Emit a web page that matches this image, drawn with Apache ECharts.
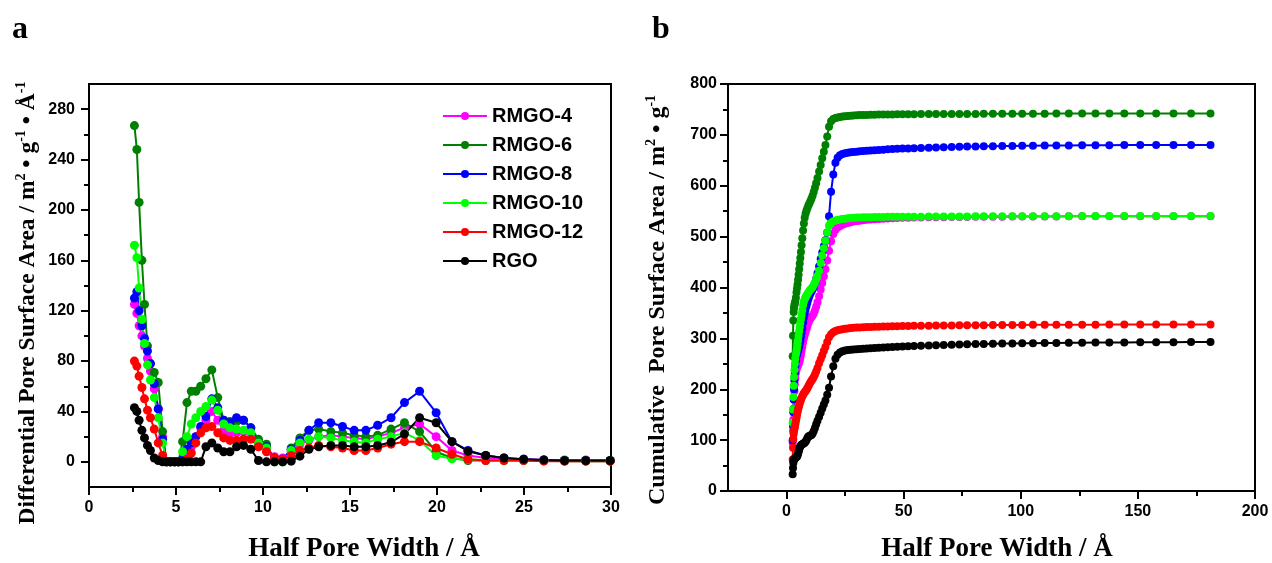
<!DOCTYPE html>
<html>
<head>
<meta charset="utf-8">
<script src="https://cdn.jsdelivr.net/npm/echarts@6/dist/echarts.min.js"></script>
<style>html,body{margin:0;padding:0;background:#fff;}#c{width:1272px;height:563px;}</style>
</head>
<body>
<div id="c"></div>
<script>
// Half pore width (Å) – shared x grid (first 53 used by panel a)
const halfPoreWidth = [2.61, 2.75, 2.88, 3.04, 3.19, 3.36, 3.53, 3.75, 3.98, 4.23,
  4.45, 4.68, 4.92, 5.14, 5.38, 5.63, 5.88, 6.14, 6.42, 6.72,
  7.06, 7.4, 7.74, 8.1, 8.48, 8.88, 9.3, 9.74, 10.2, 10.66,
  11.13, 11.62, 12.12, 12.64, 13.2, 13.9, 14.57, 15.24, 15.91, 16.59,
  17.36, 18.13, 19.0, 19.95, 20.86, 21.78, 22.8, 23.85, 24.98, 26.14,
  27.33, 28.55, 29.95,
  31.3, 32.8, 34.3, 35.9, 37.6, 39.4, 41.3, 43.2, 45.2, 47.3,
  49.5, 51.9, 54.4, 57.4, 60.7, 63.8, 67.1, 70.5, 73.8, 77.1,
  80.7, 84.2, 88.1, 92.1, 96.4, 100.6, 105.2, 110.2, 115.2, 120.5,
  126.2, 131.9, 137.8, 144.2, 151.0, 157.8, 165.2, 172.7, 181.0];

const seriesNames = ['RMGO-4', 'RMGO-6', 'RMGO-8', 'RMGO-10', 'RMGO-12', 'RGO'];

// Panel a: differential pore surface area
const diffRMGO4 = [125, 118, 108, 100, 92, 82, 72, 58, 42, 20,
  0, 0, 0, 0, 1, 5, 12, 20, 27, 33,
  40, 33, 25, 22, 23, 24, 20, 13, 9, 4,
  3, 8, 14, 17, 20, 21, 20, 19, 18, 20,
  23, 27, 30, 20, 9, 5, 3, 2, 2, 1.5,
  1.5, 1.5, 1];
const diffRMGO6 = [267, 248, 206, 160, 125, 92, 78, 71, 63, 24,
  0, 0, 0, 0, 16, 47, 56, 56, 60, 66,
  73, 51, 33, 32, 32, 33, 27, 18, 14, 0,
  0, 11, 19, 25, 26, 24, 23, 21, 20, 21,
  26, 31, 24, 8, 3, 1, 1, 1, 1, 1,
  0.5, 0.5, 0.5];
const diffRMGO8 = [130, 135, 120, 108, 98, 88, 78, 62, 42, 18,
  0, 0, 0, 0, 2, 10, 15, 20, 28, 36,
  50, 43, 33, 31, 35, 33, 27, 15, 12, 3,
  2, 10, 17, 25, 31, 31, 28, 25, 25, 29,
  35, 47, 56, 39, 16, 9, 5, 3, 2, 1.5,
  1, 1, 1];
const diffRMGO10 = [172, 162, 138, 113, 94, 77, 65, 51, 35, 15,
  0, 0, 0, 0, 8, 20, 30, 35, 40, 44,
  49, 41, 30, 27, 26, 25, 23, 15, 11, 0,
  0, 9, 15, 18, 20, 19, 17, 16, 15, 18,
  20, 23, 17, 5, 2.4, 1.8, 1.5, 1.2, 1, 1,
  1, 1, 1];
const diffRMGO12 = [80, 76, 68, 59, 50, 41, 35, 26, 15, 5,
  0, 0, 0, 0, 0, 2, 7, 15, 23, 27,
  28, 23, 19, 17, 17, 18, 18, 12, 8, 3,
  2, 5, 9, 11, 13, 12, 11, 9, 9, 11,
  14, 16, 16, 11, 6, 2, 1, 1, 1, 0.5,
  0.5, 0.5, 0.5];
const diffRGO = [43, 40, 33, 25, 19, 13, 9, 3, 1, 0,
  0, 0, 0, 0, 0, 0, 0, 0, 0, 12,
  15, 11, 8, 8, 12, 13, 10, 1, 0, 0,
  0, 0.5, 4.5, 10, 12, 13, 13, 12, 12, 13,
  15.6, 22, 35, 31, 16, 8.4, 5, 3, 2, 1.5,
  1, 1, 1];

// Panel b: cumulative pore surface area
const cumRMGO4 = [95, 118, 140, 162, 180, 196, 210, 222, 232, 238,
  242, 245, 247, 250, 253, 257, 262, 268, 275, 283,
  292, 300, 306, 312, 318, 324, 330, 335, 339, 342,
  345, 349, 355, 362, 371, 383, 396, 409, 422, 436,
  453, 472, 491, 505, 513, 518, 521, 523.5, 525.5, 527,
  528.5, 529.5, 530.5,
  531, 532, 533, 533.5, 534, 534.5, 535, 535.5, 536, 536.5,
  537, 537, 537.5, 537.5, 538, 538, 538, 538.5, 538.5, 538.5,
  539, 539, 539, 539, 539.5, 539.5, 539.5, 539.5, 539.5, 540,
  540, 540, 540, 540, 540, 540, 540, 540, 540];
const cumRMGO6 = [265, 305, 335, 352, 360, 365, 369, 373, 380, 390,
  398, 406, 415, 425, 436, 447, 458, 470, 483, 497,
  512, 526, 537, 545, 551, 556, 561, 565, 570, 575,
  581, 588, 596, 605, 615, 628, 641, 654, 667, 680,
  697, 716, 727, 731, 733, 734, 735, 736, 736.5, 737,
  737.5, 738, 738.5,
  739, 739, 739, 739.5, 739.5, 740, 740, 740, 740, 740.5,
  740.5, 740.5, 740.5, 741, 741, 741, 741, 741, 741, 741,
  741, 741.5, 741.5, 741.5, 741.5, 741.5, 741.5, 741.5, 742, 742,
  742, 742, 742, 742, 742, 742, 742, 742, 742];
const cumRMGO8 = [100, 128, 155, 180, 200, 217, 232, 246, 257, 265,
  269, 272, 276, 280, 285, 290, 296, 303, 311, 320,
  331, 341, 349, 356, 363, 370, 377, 383, 388, 392,
  396, 401, 408, 417, 428, 442, 456, 469, 481, 493,
  508, 540, 588, 622, 645, 655, 660, 662.5, 664, 665,
  666, 666.5, 667,
  668, 668.5, 669, 669.5, 670, 670.5, 671, 671.5, 672, 672.5,
  673, 673, 673.5, 674, 674.5, 675, 675.5, 676, 676.5, 677,
  677, 677.5, 677.5, 678, 678, 678.5, 678.5, 679, 679, 679,
  679.5, 679.5, 679.5, 680, 680, 680, 680, 680, 680];
const cumRMGO10 = [134, 160, 185, 207, 224, 238, 250, 260, 268, 274,
  280, 288, 296, 305, 314, 322, 330, 338, 346, 355,
  365, 372, 377, 381, 384, 387, 390, 393, 396, 398,
  401, 405, 410, 416, 423, 433, 448, 463, 477, 492,
  508, 522, 527, 530, 531.5, 532.5, 533.5, 534.5, 535, 536,
  536.5, 537, 537.5,
  537.5, 538, 538, 538, 538.5, 538.5, 538.5, 539, 539, 539,
  539, 539, 539, 539, 539.5, 539.5, 539.5, 539.5, 539.5, 539.5,
  540, 540, 540, 540, 540, 540, 540, 540, 540, 540,
  540.5, 540.5, 540.5, 540.5, 540.5, 540.5, 540.5, 540.5, 540.5];
const cumRMGO12 = [62, 85, 102, 112, 118, 122, 126, 131, 137, 143,
  149, 155, 160, 164, 168, 172, 176, 180, 183, 186,
  189, 192, 194, 196, 199, 202, 206, 210, 214, 217,
  220, 224, 229, 235, 242, 251, 259, 267, 275, 283,
  293, 302, 308, 312, 314.5, 316, 317, 318, 318.8, 319.5,
  320.2, 320.8, 321.3,
  321.5, 322, 322.5, 322.5, 323, 323, 323.5, 323.5, 324, 324,
  324.5, 324.5, 325, 325, 325, 325.5, 325.5, 325.5, 326, 326,
  326, 326, 326.5, 326.5, 326.5, 326.5, 327, 327, 327, 327,
  327, 327, 327.5, 327.5, 327.5, 327.5, 327.5, 327.5, 327.5];
const cumRGO = [33, 45, 55, 60, 62, 63, 64, 65, 66, 67,
  68, 70, 73, 77, 81, 85, 88, 90, 91, 92,
  93, 94, 95, 97, 100, 104, 107, 108, 109, 110,
  113, 118, 124, 131, 138, 146, 154, 162, 170, 178,
  189, 203, 225, 245, 260, 268, 272, 274.5, 276, 277,
  277.5, 278, 278.5,
  279, 279.5, 280, 280.5, 281, 281.5, 282, 282.5, 283, 283.5,
  284, 284.5, 285, 285.5, 286, 286.5, 287, 287.5, 288, 288.5,
  289, 289, 289.5, 290, 290, 290.5, 290.5, 291, 291, 291.5,
  291.5, 292, 292, 292, 292.5, 292.5, 292.5, 293, 293];

// Tick values
const ticksAX = [0, 5, 10, 15, 20, 25, 30];
const minorAX = [2.5, 7.5, 12.5, 17.5, 22.5, 27.5];
const ticksAY = [0, 40, 80, 120, 160, 200, 240, 280];
const minorAY = [20, 60, 100, 140, 180, 220, 260];
const ticksBX = [0, 50, 100, 150, 200];
const minorBX = [25, 75, 125, 175];
const ticksBY = [0, 100, 200, 300, 400, 500, 600, 700, 800];
const minorBY = [50, 150, 250, 350, 450, 550, 650, 750];

const colors = ['#ff00ff', '#008000', '#0000ff', '#00ff00', '#ff0000', '#000000'];
const diffData = [diffRMGO4, diffRMGO6, diffRMGO8, diffRMGO10, diffRMGO12, diffRGO];
const cumData = [cumRMGO4, cumRMGO6, cumRMGO8, cumRMGO10, cumRMGO12, cumRGO];

function pair(arr) {
  const out = [];
  for (let i = 0; i < arr.length && i < halfPoreWidth.length; i++) out.push([halfPoreWidth[i], arr[i]]);
  return out;
}

const labelFont = {fontFamily: 'Liberation Sans', fontWeight: 'bold', fontSize: 16, color: '#000'};
const lineSt = {color: '#000', width: 2};

function mainAxis(grid, min, max, interval, ticks, margin, extra) {
  return Object.assign({
    type: 'value', gridIndex: grid, min: min, max: max, interval: interval,
    axisLine: {show: true, onZero: false, lineStyle: lineSt},
    axisTick: {show: true, inside: false, length: 8, lineStyle: lineSt, customValues: ticks},
    axisLabel: Object.assign({show: true, margin: margin, customValues: ticks}, labelFont),
    splitLine: {show: false}, minorTick: {show: false}
  }, extra || {});
}
function minorAxis(grid, min, max, interval, ticks, extra) {
  return Object.assign({
    type: 'value', gridIndex: grid, min: min, max: max, interval: interval,
    axisLine: {show: false, onZero: false},
    axisTick: {show: true, inside: false, length: 5, lineStyle: lineSt, customValues: ticks},
    axisLabel: {show: false},
    splitLine: {show: false}
  }, extra || {});
}

const series = [];
seriesNames.forEach((n, i) => {
  series.push({
    name: n, type: 'line', xAxisIndex: 0, yAxisIndex: 0,
    data: pair(diffData[i]), symbol: 'circle', symbolSize: 9,
    itemStyle: {color: colors[i]}, lineStyle: {color: colors[i], width: 2},
    clip: true, animation: false
  });
});
seriesNames.forEach((n, i) => {
  series.push({
    name: n, type: 'line', xAxisIndex: 2, yAxisIndex: 2,
    data: pair(cumData[i]), symbol: 'circle', symbolSize: 8,
    itemStyle: {color: colors[i]}, lineStyle: {color: colors[i], width: 2},
    clip: true, animation: false
  });
});

const serif = '"Liberation Serif", "Times New Roman", serif';
function richStyles(size) {
  return {
    t: {fontFamily: 'Liberation Serif', fontWeight: 'bold', fontSize: size, lineHeight: size + 4, color: '#000'},
    s: {fontFamily: 'Liberation Serif', fontWeight: 'bold', fontSize: Math.round(size * 0.58), lineHeight: size + 4, verticalAlign: 'top', color: '#000'}
  };
}

const option = {
  backgroundColor: '#fff',
  animation: false,
  grid: [
    {left: 89, top: 84, width: 522, height: 403, show: true, borderColor: '#000', borderWidth: 2, backgroundColor: 'transparent'},
    {left: 728, top: 84, width: 527, height: 407, show: true, borderColor: '#000', borderWidth: 2, backgroundColor: 'transparent'}
  ],
  xAxis: [
    mainAxis(0, 0, 30, 2.5, ticksAX, 13, {position: 'bottom'}),
    minorAxis(0, 0, 30, 2.5, minorAX, {position: 'bottom'}),
    mainAxis(1, -25, 200, 25, ticksBX, 13, {position: 'bottom'}),
    minorAxis(1, -25, 200, 25, minorBX, {position: 'bottom'})
  ],
  yAxis: [
    mainAxis(0, -20, 300, 20, ticksAY, 14, {position: 'left'}),
    minorAxis(0, -20, 300, 20, minorAY, {position: 'left'}),
    mainAxis(1, 0, 800, 50, ticksBY, 11, {position: 'left'}),
    minorAxis(1, 0, 800, 50, minorBY, {position: 'left'})
  ],
  legend: {
    data: seriesNames, orient: 'vertical', left: 437, top: 101,
    itemWidth: 44, itemHeight: 10, itemGap: 9,
    textStyle: {fontFamily: 'Liberation Sans', fontWeight: 'bold', fontSize: 20, color: '#000'}
  },
  graphic: [
    {type: 'text', x: 12, y: 14, style: {text: 'a', font: 'bold 32px ' + serif, fill: '#000'}},
    {type: 'text', x: 652, y: 14, style: {text: 'b', font: 'bold 32px ' + serif, fill: '#000'}},
    {type: 'text', x: 364, y: 549, style: {text: 'Half Pore Width / Å', font: 'bold 27px ' + serif, fill: '#000', align: 'center', verticalAlign: 'middle'}},
    {type: 'text', x: 997, y: 549, style: {text: 'Half Pore Width / Å', font: 'bold 27px ' + serif, fill: '#000', align: 'center', verticalAlign: 'middle'}},
    {type: 'text', x: 28, y: 303, rotation: Math.PI / 2, style: {
      text: '{t|Differential Pore Surface Area / m}{s|2}{t| • g}{s|-1}{t| • Å}{s|-1}',
      align: 'center', verticalAlign: 'middle', fill: '#000',
      rich: richStyles(23.5)
    }},
    {type: 'text', x: 658, y: 300, rotation: Math.PI / 2, style: {
      text: '{t|Cumulative  Pore Surface Area / m}{s|2}{t| • g}{s|-1}',
      align: 'center', verticalAlign: 'middle', fill: '#000',
      rich: richStyles(24)
    }}
  ],
  series: series
};

const chart = echarts.init(document.getElementById('c'), null, {renderer: 'canvas'});
chart.setOption(option);
</script>
</body>
</html>
